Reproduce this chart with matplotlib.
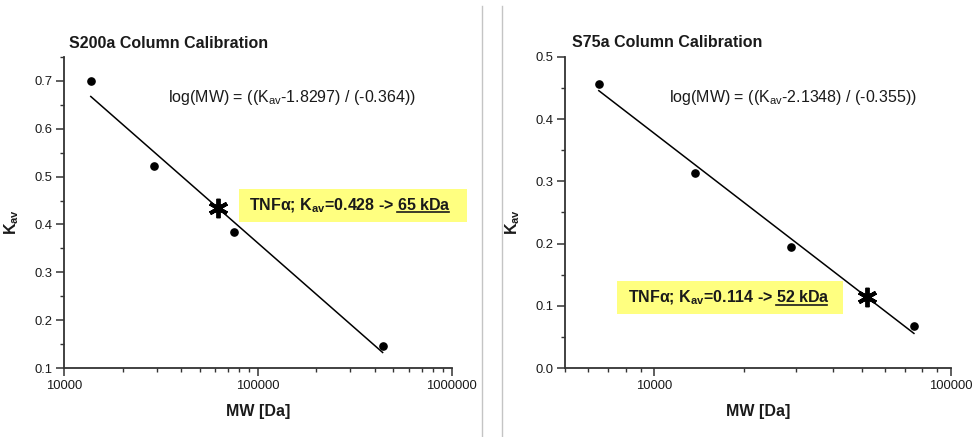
"""
S200a / S75a column calibration — Kav vs log(MW) with TNFα estimate.
"""
import matplotlib

matplotlib.use("Agg")
import matplotlib.pyplot as plt
from matplotlib.lines import Line2D
from matplotlib.patches import Rectangle
from matplotlib.ticker import FuncFormatter, LogLocator, MultipleLocator, NullFormatter

plt.rcParams["font.family"] = ["Liberation Sans", "DejaVu Sans"]
plt.rcParams["mathtext.fontset"] = "custom"
plt.rcParams["mathtext.rm"] = "Liberation Sans"
plt.rcParams["mathtext.it"] = "Liberation Sans"
plt.rcParams["mathtext.bf"] = "Liberation Sans:bold"

# S200a calibration standards
S200_MW = [13700, 29000, 75000, 440000]
S200_KAV = [0.700, 0.523, 0.385, 0.147]
S200_FIT_MW = [13700, 440000]
S200_FIT_KAV = [0.667, 0.133]
S200_TNF_MW = [62000]
S200_TNF_KAV = [0.435]

# S75a calibration standards
S75_MW = [6500, 13700, 29000, 75000]
S75_KAV = [0.456, 0.314, 0.195, 0.068]
S75_FIT_MW = [6500, 75000]
S75_FIT_KAV = [0.4455, 0.056]
S75_TNF_MW = [52000]
S75_TNF_KAV = [0.115]

TEXT = "#1a1a1a"
AXIS = "#333333"
YELLOW = "#ffff80"
W, H = 975, 437


def style_axes(ax, xlim, ylim):
    ax.set_xscale("log")
    ax.set_xlim(*xlim)
    ax.set_ylim(*ylim)
    ax.xaxis.set_major_locator(LogLocator(base=10, subs=(1.0,)))
    ax.xaxis.set_minor_locator(LogLocator(base=10, subs=range(2, 10)))
    ax.xaxis.set_major_formatter(FuncFormatter(lambda v, _: f"{int(round(v))}"))
    ax.xaxis.set_minor_formatter(NullFormatter())
    ax.yaxis.set_major_locator(MultipleLocator(0.1))
    ax.yaxis.set_minor_locator(MultipleLocator(0.05))
    ax.yaxis.set_major_formatter(FuncFormatter(lambda v, _: f"{v:.1f}"))
    for side in ("top", "right"):
        ax.spines[side].set_visible(False)
    for side in ("left", "bottom"):
        ax.spines[side].set_color(AXIS)
        ax.spines[side].set_linewidth(1.3)
    ax.tick_params(which="major", direction="out", length=5.5, width=1.1,
                   colors=AXIS, labelcolor=TEXT, labelsize=9.4, pad=3)
    ax.tick_params(which="minor", direction="out", length=3, width=1.0, colors=AXIS)
    ax.set_xlabel("MW [Da]", fontsize=11.5, fontweight="bold", color=TEXT)
    ax.set_ylabel(r"K$_\mathbf{av}$", fontsize=11.5, fontweight="bold", color=TEXT)
    ax.xaxis.set_label_coords(0.5, -0.115)
    ax.yaxis.set_label_coords(-0.112, 0.47)


def draw_panel(ax, mw, kav, fit_mw, fit_kav, tnf_mw, tnf_kav):
    ax.plot(fit_mw, fit_kav, color="black", linewidth=1.1, zorder=2)
    ax.plot(mw, kav, linestyle="none", marker="o", markersize=5.2, color="black", zorder=3)
    ax.plot(tnf_mw, tnf_kav, linestyle="none", marker=(6, 2, 0), markersize=14,
            markeredgewidth=2.8, color="black", zorder=4)


def label_box(ax, box, text_xy, text, underlined):
    x0, y0, x1, y1 = box
    ax.add_patch(Rectangle((x0, y0), x1 - x0, y1 - y0, transform=ax.transAxes,
                           facecolor=YELLOW, edgecolor="none", clip_on=False, zorder=1))
    t = ax.text(*text_xy, text, transform=ax.transAxes, fontsize=11.5, fontweight="bold",
                color=TEXT, ha="left", va="baseline", zorder=5)
    return t, underlined


fig = plt.figure(figsize=(W / 100, H / 100), dpi=100)
fig.patch.set_facecolor("white")

ax1 = fig.add_axes([64.3 / W, 1 - 368.3 / H, 387.4 / W, 311.6 / H])
ax2 = fig.add_axes([565 / W, 1 - 368.3 / H, 386 / W, 311.6 / H])

style_axes(ax1, (1e4, 1e6), (0.1, 0.75))
style_axes(ax2, (5e3, 1e5), (0.0, 0.5))

draw_panel(ax1, S200_MW, S200_KAV, S200_FIT_MW, S200_FIT_KAV, S200_TNF_MW, S200_TNF_KAV)
draw_panel(ax2, S75_MW, S75_KAV, S75_FIT_MW, S75_FIT_KAV, S75_TNF_MW, S75_TNF_KAV)

ax1.text(0.2677, 0.854, r"log(MW) = ((K$_\mathrm{av}$-1.8297) / (-0.364))",
         transform=ax1.transAxes, fontsize=11.5, color=TEXT, ha="left", va="baseline")
ax2.text(0.2694, 0.856, r"log(MW) = ((K$_\mathrm{av}$-2.1348) / (-0.355))",
         transform=ax2.transAxes, fontsize=11.5, color=TEXT, ha="left", va="baseline")

labels = [
    label_box(ax1, (0.451, 0.4695, 1.040, 0.5745), (0.4775, 0.508),
              r"TNFα; K$_\mathbf{av}$=0.428 -> 65 kDa", "65 kDa"),
    label_box(ax2, (0.134, 0.1733, 0.7194, 0.280), (0.163, 0.2105),
              r"TNFα; K$_\mathbf{av}$=0.114 -> 52 kDa", "52 kDa"),
]

fig.text(69 / W, 1 - 47.7 / H, "S200a Column Calibration", fontsize=11.5,
         fontweight="bold", color=TEXT, ha="left", va="baseline")
fig.text(572 / W, 1 - 46.7 / H, "S75a Column Calibration", fontsize=11.5,
         fontweight="bold", color=TEXT, ha="left", va="baseline")

# thin separators between the two panels
for xpix in (481.7, 502.3):
    fig.add_artist(Line2D([xpix / W, xpix / W], [0, 1 - 6 / H], transform=fig.transFigure,
                          color="#c4c4c4", linewidth=1.0))

# underline the kDa part of each label
fig.canvas.draw()
renderer = fig.canvas.get_renderer()
for t, part in labels:
    full = t.get_window_extent(renderer)
    probe = fig.text(0, 0, part, fontsize=11.5, fontweight="bold")
    pw = probe.get_window_extent(renderer).width
    probe.remove()
    right = full.x1 - 2.5
    base_y = t.get_transform().transform(t.get_position())[1]
    uy = (base_y - 2.3) / H
    fig.add_artist(Line2D([(right - pw + 0.5) / W, right / W], [uy, uy],
                          transform=fig.transFigure, color=TEXT, linewidth=1.2))

fig.savefig("out.png", dpi=100, facecolor="white")
